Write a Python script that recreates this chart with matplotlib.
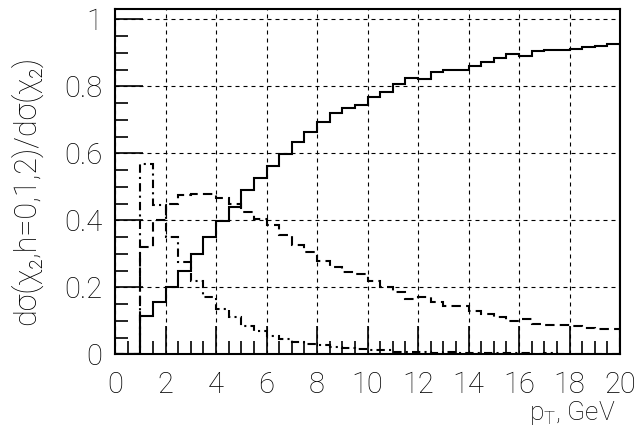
import numpy as np
import matplotlib
matplotlib.use("Agg")
import matplotlib.pyplot as plt
from matplotlib.ticker import MultipleLocator, FormatStrFormatter

# Bin edges in p_T (GeV), 0.5 GeV wide
edges = np.arange(0, 20.01, 0.5)

# Fraction of chi_2 cross section for each helicity, per p_T bin
frac_h0 = [0.0, 0.0, 0.113, 0.155, 0.200, 0.250, 0.300, 0.350, 0.397, 0.440,
           0.490, 0.527, 0.561, 0.598, 0.634, 0.664, 0.693, 0.720, 0.735, 0.745,
           0.768, 0.783, 0.806, 0.825, 0.822, 0.843, 0.849, 0.849, 0.862, 0.873,
           0.886, 0.897, 0.891, 0.907, 0.908, 0.909, 0.912, 0.918, 0.922, 0.926]
frac_h1 = [0.0, 0.0, 0.320, 0.400, 0.450, 0.475, 0.480, 0.480, 0.467, 0.450,
           0.425, 0.405, 0.385, 0.355, 0.327, 0.305, 0.280, 0.260, 0.245, 0.239,
           0.219, 0.201, 0.186, 0.166, 0.170, 0.156, 0.143, 0.144, 0.128, 0.121,
           0.112, 0.098, 0.105, 0.091, 0.088, 0.087, 0.084, 0.080, 0.077, 0.075]
frac_h2 = [0.0, 0.0, 0.567, 0.445, 0.350, 0.275, 0.220, 0.170, 0.136, 0.110,
           0.085, 0.070, 0.055, 0.047, 0.038, 0.031, 0.027, 0.022, 0.020, 0.016,
           0.013, 0.012, 0.008, 0.008, 0.007, 0.004, 0.006, 0.005, 0.004, 0.004,
           0.003, 0.004, 0.003, 0.002, 0.003, 0.002, 0.002, 0.002, 0.001, 0.001]

FONT = ["Roboto", "DejaVu Sans"]
plt.rcParams["font.family"] = FONT
plt.rcParams["font.weight"] = "light"
plt.rcParams["axes.labelweight"] = "light"

fig = plt.figure(figsize=(6.4, 4.26), dpi=100)
ax = fig.add_axes([0.1797, 0.1683, 0.7891, 0.8098])

lw = 1.5
ax.stairs(frac_h0, edges, color="black", linewidth=lw, linestyle="-")
ax.stairs(frac_h1, edges, color="black", linewidth=lw, linestyle=(0, (4.5, 2.5)))
ax.stairs(frac_h2, edges, color="black", linewidth=lw,
          linestyle=(0, (4.0, 2.0, 1.0, 2.0)))

ax.set_xlim(0, 20)
ax.set_ylim(0, 1.03)

ax.xaxis.set_major_locator(MultipleLocator(2))
ax.xaxis.set_minor_locator(MultipleLocator(0.5))
ax.yaxis.set_major_locator(MultipleLocator(0.2))
ax.yaxis.set_minor_locator(MultipleLocator(0.05))
ax.yaxis.set_major_formatter(FormatStrFormatter("%g"))

ax.tick_params(which="both", direction="in", top=False, right=False,
               width=1.2, color="black", labelsize=21)
ax.tick_params(which="major", length=20)
ax.tick_params(which="minor", length=9.5)
ax.tick_params(axis="y", pad=9)
ax.tick_params(axis="x", pad=12)

for s in ax.spines.values():
    s.set_linewidth(1.5)

ax.grid(True, which="major", color="black", linewidth=0.8,
        linestyle=(0, (3.6, 3.6)))
ax.set_axisbelow(False)

ax.set_ylabel("dσ(χ₂,h=0,1,2)/dσ(χ₂)", fontsize=22, fontweight="light")
ax.yaxis.set_label_coords(-0.145, 0.475)
ax.set_xlabel(r"p$_\mathregular{T}$, GeV", fontsize=19, fontweight="light")
ax.xaxis.set_label_coords(0.99, -0.13)
ax.xaxis.label.set_horizontalalignment("right")

fig.savefig("out.png", dpi=100)
